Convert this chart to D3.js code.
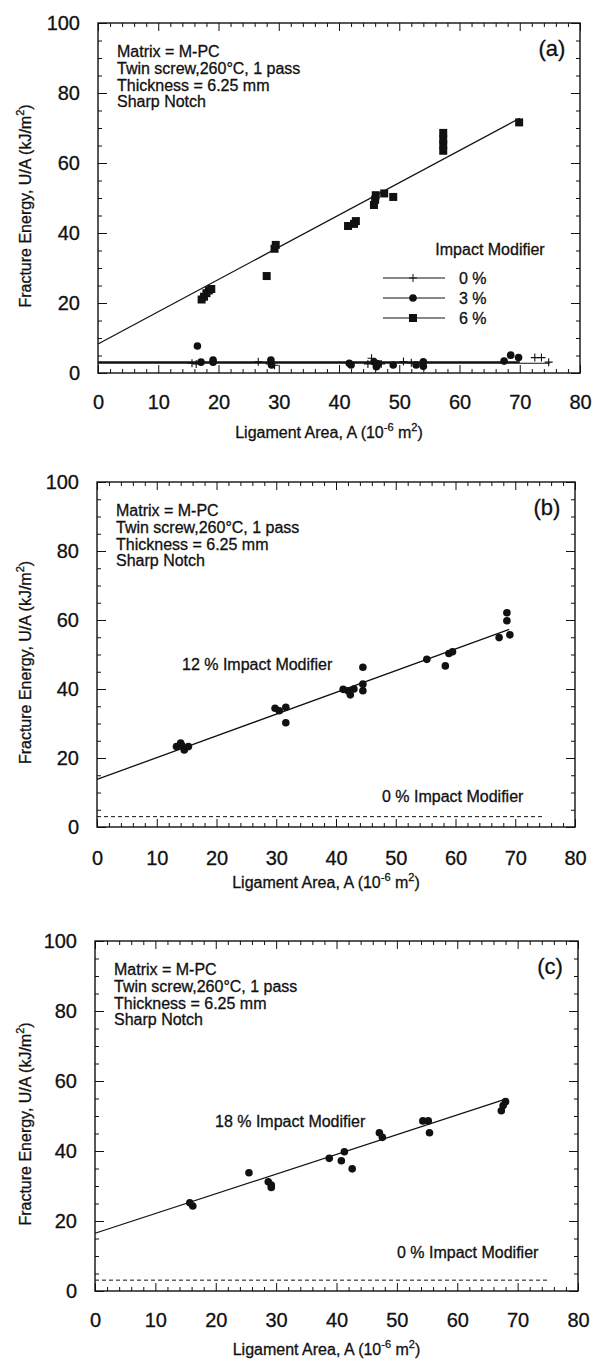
<!DOCTYPE html>
<html>
<head>
<meta charset="utf-8">
<script src="https://cdn.jsdelivr.net/npm/d3@7"></script>
<style>
body { margin: 0; background: #fff; }
text { font-family: "Liberation Sans", Arial, sans-serif; fill: #111; stroke: #111; stroke-width: 0.3; }
</style>
</head>
<body>
<script>
// tick values
var xMajor = [0, 10, 20, 30, 40, 50, 60, 70, 80];
var yMajor = [0, 20, 40, 60, 80, 100];
var xMinor = d3.range(0, 81, 2);
var yMinor = d3.range(0, 101, 5);

var notes = ["Matrix = M-PC", "Twin screw,260\u00b0C, 1 pass", "Thickness = 6.25 mm", "Sharp Notch"];

// panel (a): [ligament area, fracture energy]
var a0 = [[15.6, 2.8], [16.3, 2.6], [26.6, 3.2], [28.5, 2.6], [29.3, 2.2], [44.8, 2.6], [45.4, 4.2],
          [47.0, 2.6], [50.7, 3.3], [52.0, 2.9], [72.5, 4.4], [73.6, 4.4], [74.8, 3.1]];
var a3 = [[16.5, 7.7], [17.1, 3.1], [19.1, 3.7], [19.1, 3.1], [28.7, 3.7], [28.8, 2.3], [41.7, 2.8],
          [42.0, 2.3], [45.8, 3.2], [46.2, 1.8], [46.5, 2.6], [49.0, 2.3], [52.8, 2.3], [54.0, 3.2],
          [54.0, 1.9], [67.4, 3.4], [68.5, 5.1], [69.8, 4.4]];
var a6 = [[17.2, 21.0], [17.6, 21.8], [18.0, 22.8], [18.4, 23.6], [18.8, 24.0], [28.0, 27.7],
          [29.3, 35.5], [29.5, 36.6], [41.5, 42.0], [42.5, 42.6], [42.8, 43.4], [45.8, 48.0],
          [46.0, 49.5], [46.1, 50.8], [47.5, 51.3], [49.0, 50.3], [57.3, 63.5], [57.3, 65.2],
          [57.3, 66.8], [57.3, 68.6], [69.9, 71.6]];
var fitA0 = [[0, 2.8], [75, 2.8]];
var fitA3 = [[0, 3.1], [70, 3.1]];
var fitA6 = [[0, 8.3], [70, 72.8]];

// panel (b)
var b12 = [[13.3, 23.3], [14.0, 24.3], [14.6, 22.3], [15.3, 23.3], [14.2, 23.6], [29.8, 34.4],
           [30.5, 33.7], [31.6, 34.7], [31.6, 30.2], [41.2, 39.9], [42.0, 39.5], [42.4, 38.3],
           [43.0, 40.0], [44.5, 46.3], [44.5, 41.4], [44.5, 39.5], [55.2, 48.6], [58.3, 46.7],
           [58.9, 50.3], [59.5, 50.8], [67.3, 54.9], [68.6, 59.8], [68.6, 62.1], [69.1, 55.7]];
var fitB12 = [[0, 13.8], [69, 57.3]];
var fitB0 = [[0, 3.0], [75, 3.0]];

// panel (c)
var c18 = [[15.7, 25.2], [16.2, 24.3], [25.5, 33.8], [28.7, 31.2], [29.2, 30.3], [29.2, 29.6],
           [38.8, 37.9], [40.8, 37.2], [41.3, 39.8], [42.6, 34.9], [47.1, 45.2], [47.6, 43.9],
           [54.3, 48.6], [55.2, 48.6], [55.4, 45.2], [67.3, 51.5], [67.6, 53.0], [68.0, 54.1]];
var fitC18 = [[0, 16.5], [68, 54.8]];
var fitC0 = [[0, 3.1], [75, 3.1]];

var legendLabels = ["0 %", "3 %", "6 %"];

var width = 599, height = 1360;
var svg = d3.select("body").append("svg")
    .attr("width", width)
    .attr("height", height);

var panels = [
  { name: "(a)", left: 98, top: 23, w: 482, h: 350, tickOff: 0, titleOff: 60 },
  { name: "(b)", left: 97, top: 482, w: 478, h: 345, tickOff: 2, titleOff: 56 },
  { name: "(c)", left: 95, top: 941, w: 483, h: 350, tickOff: 0, titleOff: 59 }
];

function drawFrame(p) {
  var g = svg.append("g").attr("transform", "translate(" + p.left + "," + p.top + ")");
  var x = d3.scaleLinear().domain([0, 80]).range([0, p.w]);
  var y = d3.scaleLinear().domain([0, 100]).range([p.h, 0]);
  p.g = g; p.x = x; p.y = y;

  function axis(gen, scale, vals, size, pad, labels) {
    return gen(scale).tickValues(vals).tickSize(size).tickPadding(pad)
      .tickFormat(labels ? d3.format("d") : "");
  }
  var minorX = xMinor.filter(function(d) { return d % 10; });
  var minorY = yMinor.filter(function(d) { return d % 20; });

  var bot = g.append("g").attr("transform", "translate(0," + p.h + ")");
  bot.call(axis(d3.axisBottom, x, xMajor, -8, 22 + p.tickOff, true));
  bot.append("g").call(axis(d3.axisBottom, x, minorX, -4, 0, false));
  var top = g.append("g");
  top.call(axis(d3.axisTop, x, xMajor, -8, 0, false));
  top.append("g").call(axis(d3.axisTop, x, minorX, -4, 0, false));
  var lft = g.append("g");
  lft.call(axis(d3.axisLeft, y, yMajor, -9, 18, true));
  lft.append("g").call(axis(d3.axisLeft, y, minorY, -4, 0, false));
  var rgt = g.append("g").attr("transform", "translate(" + p.w + ",0)");
  rgt.call(axis(d3.axisRight, y, yMajor, -9, 0, false));
  rgt.append("g").call(axis(d3.axisRight, y, minorY, -4, 0, false));

  g.selectAll(".domain").remove();
  g.selectAll(".tick line").attr("stroke", "#111").attr("stroke-width", 1);
  g.selectAll(".tick text").attr("font-size", 20).attr("font-family", "Liberation Sans, Arial, sans-serif").attr("fill", "#111");

  g.append("rect")
    .attr("width", p.w).attr("height", p.h)
    .attr("fill", "none").attr("stroke", "#111").attr("stroke-width", 1.4);

  // axis titles
  var xt = g.append("text")
    .attr("x", p.w / 2 - 10).attr("y", p.h + p.titleOff + 5)
    .attr("text-anchor", "middle").attr("font-size", 16);
  xt.append("tspan").text("Ligament Area, A (10");
  xt.append("tspan").attr("font-size", 11).attr("dy", -7).text("-6");
  xt.append("tspan").attr("dy", 7).text(" m");
  xt.append("tspan").attr("font-size", 11).attr("dy", -7).text("2");
  xt.append("tspan").attr("dy", 7).text(")");

  var yt = g.append("text")
    .attr("transform", "translate(" + (-p.left + 31) + "," + (p.h / 2 + 8) + ") rotate(-90)")
    .attr("text-anchor", "middle").attr("font-size", 16);
  yt.append("tspan").text("Fracture Energy, U/A (kJ/m");
  yt.append("tspan").attr("font-size", 11).attr("dy", -7).text("2");
  yt.append("tspan").attr("dy", 7).text(")");

  // notes
  g.selectAll(".note").data(notes).enter().append("text")
    .attr("x", 19).attr("y", function(d, i) { return 34 + i * 16.8; })
    .attr("font-size", 16).text(function(d) { return d; });

  g.append("text").attr("x", p.w - 28).attr("y", 33)
    .attr("text-anchor", "middle").attr("font-size", 22).text(p.name);
  return g;
}

function fitLine(p, pts, w, dash) {
  var line = d3.line().x(function(d) { return p.x(d[0]); }).y(function(d) { return p.y(d[1]); });
  p.g.append("path").attr("d", line(pts))
    .attr("fill", "none").attr("stroke", "#111").attr("stroke-width", w)
    .attr("stroke-dasharray", dash || null);
}

function dots(p, pts, r) {
  p.g.selectAll(null).data(pts).enter().append("circle")
    .attr("cx", function(d) { return p.x(d[0]); })
    .attr("cy", function(d) { return p.y(d[1]); })
    .attr("r", r).attr("fill", "#111");
}

function squares(p, pts, s) {
  p.g.selectAll(null).data(pts).enter().append("rect")
    .attr("x", function(d) { return p.x(d[0]) - s / 2; })
    .attr("y", function(d) { return p.y(d[1]) - s / 2; })
    .attr("width", s).attr("height", s).attr("fill", "#111");
}

function crosses(p, pts, s) {
  p.g.selectAll(null).data(pts).enter().append("path")
    .attr("transform", function(d) { return "translate(" + p.x(d[0]) + "," + p.y(d[1]) + ")"; })
    .attr("d", "M" + (-s) + ",0H" + s + "M0," + (-s) + "V" + s)
    .attr("stroke", "#111").attr("stroke-width", 1.1).attr("fill", "none");
}

panels.forEach(drawFrame);
var pa = panels[0], pb = panels[1], pc = panels[2];

// panel (a)
fitLine(pa, fitA0, 1.1);
fitLine(pa, fitA3, 1.6);
fitLine(pa, fitA6, 1.3);
crosses(pa, a0, 4);
dots(pa, a3, 3.8);
squares(pa, a6, 8);

// legend
var lg = pa.g.append("g").attr("transform", "translate(285,232)");
lg.append("text").attr("x", 107).attr("y", 0).attr("text-anchor", "middle")
  .attr("font-size", 16).text("Impact Modifier");
var rows = lg.selectAll(".row").data(legendLabels).enter().append("g")
  .attr("transform", function(d, i) { return "translate(0," + (23 + i * 20) + ")"; });
rows.append("line").attr("x1", 0).attr("x2", 62).attr("stroke", "#111").attr("stroke-width", 1.1);
rows.append("text").attr("x", 76).attr("dy", "0.35em").attr("font-size", 16).text(function(d) { return d; });
rows.filter(function(d, i) { return i === 0; }).append("path")
  .attr("d", "M26,0H34M30,-4V4").attr("stroke", "#111").attr("fill", "none");
rows.filter(function(d, i) { return i === 1; }).append("circle")
  .attr("cx", 30).attr("r", 3.8).attr("fill", "#111");
rows.filter(function(d, i) { return i === 2; }).append("rect")
  .attr("x", 26).attr("y", -4).attr("width", 8).attr("height", 8).attr("fill", "#111");

// panel (b)
fitLine(pb, fitB0, 1, "4,3");
fitLine(pb, fitB12, 1.3);
dots(pb, b12, 3.8);
pb.g.append("text").attr("x", 85).attr("y", 188).attr("font-size", 16).text("12 % Impact Modifier");
pb.g.append("text").attr("x", 285).attr("y", 320).attr("font-size", 16).text("0 % Impact Modifier");

// panel (c)
fitLine(pc, fitC0, 1, "4,3");
fitLine(pc, fitC18, 1.3);
dots(pc, c18, 3.8);
pc.g.append("text").attr("x", 120).attr("y", 186).attr("font-size", 16).text("18 % Impact Modifier");
pc.g.append("text").attr("x", 302).attr("y", 317).attr("font-size", 16).text("0 % Impact Modifier");
</script>
</body>
</html>
